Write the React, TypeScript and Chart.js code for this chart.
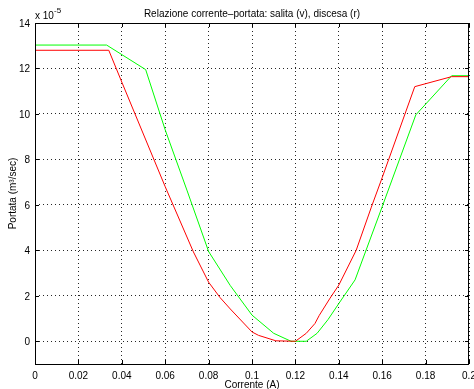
import React, { useEffect, useRef } from "react";
import { Chart, registerables } from "chart.js";

Chart.register(...registerables);

const titleText = "Relazione corrente–portata: salita (v), discesa (r)";
const xAxisTitle = "Corrente (A)";
const yAxisTitle = "Portata (m³/sec)";
const exponentBase = "x 10";
const exponentPower = "-5";

const xTicks = [0, 0.02, 0.04, 0.06, 0.08, 0.1, 0.12, 0.14, 0.16, 0.18, 0.2];
const xTickLabels = ["0", "0.02", "0.04", "0.06", "0.08", "0.1", "0.12", "0.14", "0.16", "0.18", "0.2"];
const yTicks = [0, 2, 4, 6, 8, 10, 12, 14];
const yTickLabels = ["0", "2", "4", "6", "8", "10", "12", "14"];

// salita (v) — green
const salitaX = [0, 0.033, 0.051, 0.06, 0.07, 0.08, 0.09, 0.1, 0.11, 0.118, 0.125, 0.13, 0.135, 0.14, 0.1475, 0.16, 0.1755, 0.192, 0.2];
const salitaY = [13.03, 13.03, 11.95, 9.3, 6.65, 3.95, 2.45, 1.15, 0.35, 0, 0, 0.35, 0.95, 1.66, 2.7, 5.92, 9.96, 11.68, 11.68];

// discesa (r) — red
const discesaX = [0, 0.034, 0.04, 0.06, 0.073, 0.08, 0.0853, 0.09, 0.1, 0.103, 0.111, 0.12, 0.125, 0.129, 0.131, 0.136, 0.14, 0.148, 0.155, 0.16, 0.175, 0.192, 0.2];
const discesaY = [12.8, 12.8, 11.4, 6.8, 3.93, 2.6, 1.92, 1.42, 0.41, 0.26, 0.02, 0, 0.35, 0.78, 1.14, 1.9, 2.47, 4.0, 5.9, 7.2, 11.2, 11.64, 11.64];

const FONT = "'Liberation Sans', Arial, Helvetica, sans-serif";

const decorPlugin = {
  id: "matlabDecor",
  afterDraw(chart: any) {
    const { ctx, chartArea } = chart;
    const xs = chart.scales.x;
    const ys = chart.scales.y;
    const L = Math.round(chartArea.left);
    const R = Math.round(chartArea.right);
    const T = Math.round(chartArea.top);
    const B = Math.round(chartArea.bottom);
    ctx.save();
    ctx.strokeStyle = "#000";
    ctx.lineWidth = 1;
    ctx.setLineDash([]);
    ctx.strokeRect(L + 0.5, T + 0.5, R - L - 1, B - T);
    // tick marks
    ctx.beginPath();
    xTicks.forEach((v) => {
      const px = Math.round(xs.getPixelForValue(v)) + 0.5;
      ctx.moveTo(px, B);
      ctx.lineTo(px, B - 4);
      ctx.moveTo(px, T);
      ctx.lineTo(px, T + 4);
    });
    yTicks.forEach((v) => {
      const py = Math.round(ys.getPixelForValue(v)) + 0.5;
      ctx.moveTo(L, py);
      ctx.lineTo(L + 4, py);
      ctx.moveTo(R, py);
      ctx.lineTo(R - 4, py);
    });
    ctx.stroke();

    ctx.fillStyle = "#000";
    ctx.font = `10px ${FONT}`;
    ctx.textAlign = "center";
    ctx.textBaseline = "top";
    xTicks.forEach((v, i) => {
      ctx.fillText(xTickLabels[i], xs.getPixelForValue(v), B + 7);
    });
    ctx.textAlign = "right";
    ctx.textBaseline = "middle";
    yTicks.forEach((v, i) => {
      ctx.fillText(yTickLabels[i], L - 5, ys.getPixelForValue(v) + 1);
    });

    // axis titles
    ctx.textAlign = "center";
    ctx.textBaseline = "middle";
    ctx.fillText(xAxisTitle, (L + R) / 2, B + 21);
    ctx.save();
    ctx.translate(13, (T + B) / 2);
    ctx.rotate(-Math.PI / 2);
    ctx.fillText(yAxisTitle, 0, 0);
    ctx.restore();

    // title
    ctx.textBaseline = "alphabetic";
    ctx.fillText(titleText, (L + R) / 2, 17);

    // exponent
    ctx.textAlign = "left";
    ctx.fillText(exponentBase, 35, 19);
    ctx.font = `8px ${FONT}`;
    ctx.fillText(exponentPower, 54, 13);
    ctx.restore();
  },
};

export default function App() {
  const ref = useRef<HTMLCanvasElement | null>(null);
  useEffect(() => {
    document.body.style.margin = "0";
    const canvas = ref.current;
    if (!canvas) return;
    const chart = new Chart(canvas, {
      type: "line",
      data: {
        datasets: [
          {
            label: "discesa (r)",
            data: discesaX.map((x, i) => ({ x, y: discesaY[i] })),
            borderColor: "#ff0000",
            borderWidth: 1,
            pointRadius: 0,
            tension: 0,
            fill: false,
          },
          {
            label: "salita (v)",
            data: salitaX.map((x, i) => ({ x, y: salitaY[i] })),
            borderColor: "#00ff00",
            borderWidth: 1,
            pointRadius: 0,
            tension: 0,
            fill: false,
          },
        ],
      },
      options: {
        responsive: false,
        animation: false,
        events: [],
        layout: { padding: { left: 35, right: 5, top: 23, bottom: 25 } },
        plugins: {
          legend: { display: false },
          title: { display: false },
          tooltip: { enabled: false },
        },
        scales: {
          x: {
            type: "linear",
            min: 0,
            max: 0.2,
            afterBuildTicks: (scale: any) => {
              scale.ticks = xTicks.map((v) => ({ value: v }));
            },
            afterFit: (scale: any) => {
              scale.height = 0;
            },
            ticks: { display: false },
            grid: { color: "rgba(0,0,0,0.85)", lineWidth: 1, drawTicks: false },
            border: { display: false, dash: [1, 3] },
          },
          y: {
            type: "linear",
            min: -1,
            max: 14,
            afterBuildTicks: (scale: any) => {
              scale.ticks = yTicks.map((v) => ({ value: v }));
            },
            afterFit: (scale: any) => {
              scale.width = 0;
            },
            ticks: { display: false },
            grid: { color: "rgba(0,0,0,0.85)", lineWidth: 1, drawTicks: false },
            border: { display: false, dash: [1, 3] },
          },
        },
      },
      plugins: [decorPlugin],
    } as any);
    return () => chart.destroy();
  }, []);
  return (
    <div style={{ width: 474, height: 389, background: "#fff" }}>
      <canvas ref={ref} width={474} height={389} style={{ display: "block" }} />
    </div>
  );
}
